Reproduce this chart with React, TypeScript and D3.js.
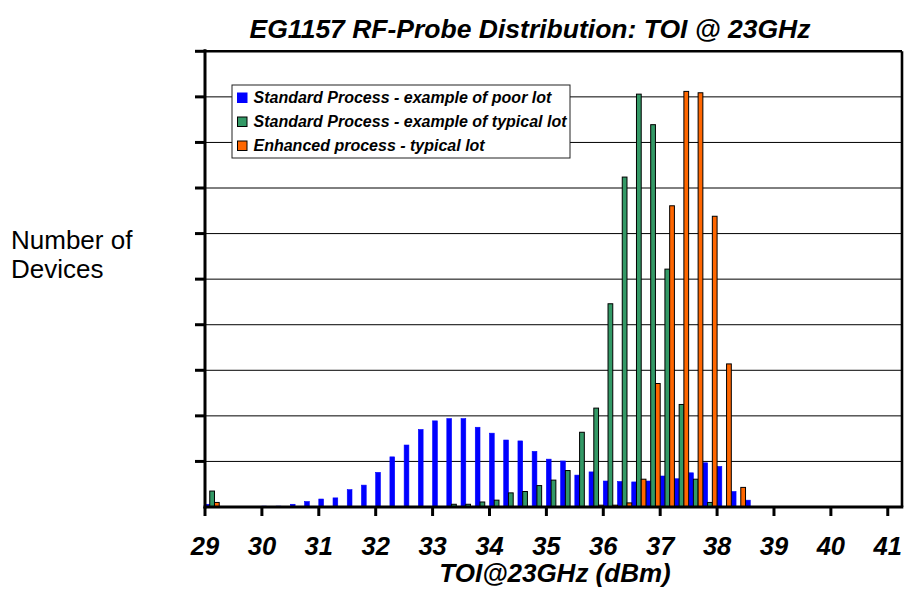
import React from "react";
import * as d3 from "d3";

const bins = [
  "29", "29.25", "29.5", "29.75", "30", "30.25", "30.5", "30.75",
  "31", "31.25", "31.5", "31.75", "32", "32.25", "32.5", "32.75",
  "33", "33.25", "33.5", "33.75", "34", "34.25", "34.5", "34.75",
  "35", "35.25", "35.5", "35.75", "36", "36.25", "36.5", "36.75",
  "37", "37.25", "37.5", "37.75", "38", "38.25", "38.5", "38.75",
  "39", "39.25", "39.5", "39.75", "40", "40.25", "40.5", "40.75", "41",
];

const poorLot = [
  0.6, 0, 0, 0, 0.2, 0.2, 0.6, 1.2,
  1.75, 2.0, 3.8, 4.8, 7.6, 11.0, 13.6, 17.0,
  18.9, 19.4, 19.4, 17.5, 16.2, 14.7, 14.5, 12.2,
  10.5, 10.1, 7.0, 7.7, 5.7, 5.6, 5.5, 5.7,
  6.8, 6.2, 7.5, 9.7, 8.9, 3.4, 1.5, 0.1,
  0, 0, 0, 0, 0, 0, 0, 0, 0,
];

const typicalLot = [
  3.5, 0, 0, 0, 0, 0, 0, 0,
  0, 0, 0, 0, 0, 0, 0, 0,
  0, 0.6, 0.6, 1.1, 1.5, 3.1, 3.4, 4.7,
  5.9, 8.0, 16.4, 21.7, 44.6, 72.4, 90.6, 83.9,
  52.2, 22.5, 6.1, 1.0, 0, 0, 0, 0,
  0, 0, 0, 0, 0, 0, 0, 0, 0,
];

const enhancedLot = [
  1.0, 0, 0, 0, 0, 0, 0, 0,
  0, 0, 0, 0, 0, 0, 0, 0,
  0, 0, 0, 0, 0, 0, 0, 0,
  0, 0, 0, 0.4, 0.4, 0.9, 6.1, 27.1,
  66.1, 91.2, 90.9, 63.8, 31.4, 4.3, 0, 0,
  0, 0, 0, 0, 0, 0, 0, 0, 0,
];

const xTickLabels = ["29", "30", "31", "32", "33", "34", "35", "36", "37", "38", "39", "40", "41"];
const yGridValues = [0, 10, 20, 30, 40, 50, 60, 70, 80, 90, 100];

const seriesNames = [
  "Standard Process - example of poor lot",
  "Standard Process - example of typical lot",
  "Enhanced process - typical lot",
];
const seriesData = [poorLot, typicalLot, enhancedLot];
const seriesColors = ["#0000FF", "#339966", "#FF6600"];
const seriesStroke = ["#0000FF", "#000000", "#000000"];

const FONT = "'Liberation Sans', Arial, Helvetica, sans-serif";

export default function App() {
  const W = 908;
  const H = 594;
  const left = 205;
  const right = 902;
  const top = 51.3;
  const bottom = 507;

  const x = d3.scaleBand<string>().domain(bins).range([left, right]).padding(0);
  const xs = d3
    .scaleBand<number>()
    .domain([0, 1, 2])
    .range([0, x.bandwidth()])
    .padding(0);
  const y = d3.scaleLinear().domain([0, 100]).range([bottom, top]);

  return (
    <svg
      width={W}
      height={H}
      style={{ position: "absolute", left: 0, top: 0, display: "block", background: "#fff" }}
      fontFamily={FONT}
    >
      <rect x={0} y={0} width={W} height={H} fill="#fff" />
      {/* title */}
      <text
        x={530}
        y={38}
        textAnchor="middle"
        fontSize={26.5}
        fontWeight="bold"
        fontStyle="italic"
        fill="#000"
      >
        EG1157 RF-Probe Distribution: TOI @ 23GHz
      </text>

      {/* gridlines */}
      {yGridValues.slice(1, -1).map((v) => (
        <line
          key={"g" + v}
          x1={left}
          x2={right}
          y1={y(v)}
          y2={y(v)}
          stroke="#000"
          strokeWidth={1}
        />
      ))}

      {/* bars */}
      {seriesData.map((data, si) => (
        <g key={"s" + si}>
          {data.map((v, i) =>
            v > 0 ? (
              <rect
                key={i}
                x={(x(bins[i]) as number) + (xs(si) as number)}
                y={y(v)}
                width={xs.bandwidth()}
                height={bottom - y(v)}
                fill={seriesColors[si]}
                stroke={seriesStroke[si]}
                strokeWidth={si === 0 ? 0.6 : 1}
              />
            ) : null
          )}
        </g>
      ))}

      {/* legend */}
      <g>
        <rect x={232} y={85} width={338} height={73} fill="#fff" stroke="#222" strokeWidth={1} />
        {seriesNames.map((name, i) => (
          <g key={"l" + i}>
            <rect
              x={237.5}
              y={93 + i * 24}
              width={9.5}
              height={9.5}
              fill={seriesColors[i]}
              stroke={i === 0 ? seriesColors[0] : "#000"}
              strokeWidth={1}
            />
            <text
              x={253.5}
              y={103 + i * 24}
              fontSize={16}
              fontWeight="bold"
              fontStyle="italic"
              fill="#000"
            >
              {name}
            </text>
          </g>
        ))}
      </g>

      {/* plot border / axes */}
      <line x1={left} x2={right} y1={top} y2={top} stroke="#000" strokeWidth={2.6} />
      <line x1={right} x2={right} y1={top} y2={bottom} stroke="#000" strokeWidth={2.6} />
      <line x1={left} x2={left} y1={top - 2} y2={bottom + 1.5} stroke="#000" strokeWidth={3} />
      <line x1={left - 1.5} x2={right + 1.3} y1={bottom} y2={bottom} stroke="#000" strokeWidth={3} />

      {/* y ticks */}
      {yGridValues.slice(1).map((v) => (
        <line
          key={"yt" + v}
          x1={195}
          x2={left}
          y1={y(v)}
          y2={y(v)}
          stroke="#000"
          strokeWidth={3}
        />
      ))}

      {/* x ticks and labels */}
      {xTickLabels.map((t) => {
        const xp = x(t) as number;
        return (
          <g key={"xt" + t}>
            <line x1={xp} x2={xp} y1={bottom} y2={516} stroke="#000" strokeWidth={3} />
            <text
              x={xp}
              y={555}
              textAnchor="middle"
              fontSize={25.5}
              fontWeight="bold"
              fontStyle="italic"
              fill="#000"
            >
              {t}
            </text>
          </g>
        );
      })}

      {/* x axis title */}
      <text
        x={555}
        y={582}
        textAnchor="middle"
        fontSize={26}
        fontWeight="bold"
        fontStyle="italic"
        fill="#000"
      >
        TOI@23GHz (dBm)
      </text>

      {/* y axis title */}
      <text x={11} y={249} fontSize={26} fill="#000">
        Number of
      </text>
      <text x={11} y={278} fontSize={26} fill="#000">
        Devices
      </text>
    </svg>
  );
}
